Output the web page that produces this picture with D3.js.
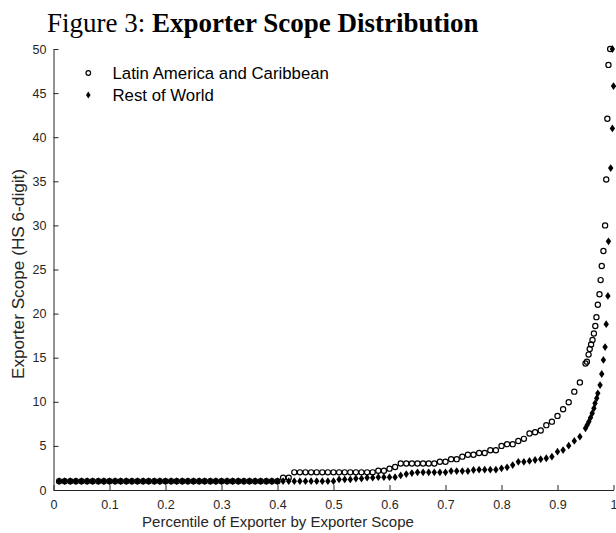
<!DOCTYPE html>
<html><head><meta charset="utf-8">
<script src="https://cdn.jsdelivr.net/npm/d3@7"></script>
<style>body{margin:0;background:#fff}svg{display:block}</style>
</head><body>
<svg id="c" width="616" height="533"></svg>
<script>
// percentile grid for the body of the distribution (0.01 ... 0.94)
const basePct = d3.range(1, 95).map(i => i / 100);

const lacBase = [
  1,1,1,1,1,1,1,1,1,1, 1,1,1,1,1,1,1,1,1,1, 1,1,1,1,1,1,1,1,1,1, 1,1,1,1,1,1,1,1,1,1,
  1.4,1.4,
  2,2,2,2,2,2,2,2,2,2,2,2,2,2,2,
  2.19,2.19,2.42,2.6,
  3,3,3,3,3,3,3,
  3.2,3.2, 3.5,3.5, 3.78, 4.0,4.0, 4.2,4.2, 4.5,4.5, 5.0, 5.2,5.2, 5.55, 5.8,
  6.4, 6.55, 6.75, 7.35, 7.75, 8.4, 9.15, 9.95, 11.15, 12.2
];
const lacTailPct = [0.95,0.9525,0.9555,0.9575,0.96,0.9625,0.965,0.9675,0.9695,0.972,0.975,0.977,0.979,0.982,0.985,0.987,0.989,0.991,0.994];
const lacTail    = [14.35,14.55,15.35,16.0,16.5,17.0,17.75,18.6,19.6,21.0,22.2,23.8,25.4,27.1,30.0,35.2,42.1,48.2,50];

const rowBase = [
  1,1,1,1,1,1,1,1,1,1, 1,1,1,1,1,1,1,1,1,1, 1,1,1,1,1,1,1,1,1,1, 1,1,1,1,1,1,1,1,1,1, 1,1,1,1,1,1,1,1,1,1,
  1.2,1.2,1.2, 1.3,1.3, 1.4,1.4, 1.45,1.45,1.45,1.45,
  1.65, 1.8, 1.92,
  2,2,2,2,2,2,
  2.15,2.15,2.15,2.15, 2.27, 2.3,2.3,2.3,2.3,
  2.46, 2.57, 2.83, 3.2,3.2, 3.3, 3.4, 3.5, 3.6, 3.78,
  4.34, 4.53, 5.02, 5.56, 6.05
];
const rowTailPct = [0.95,0.953,0.956,0.959,0.962,0.965,0.967,0.97,0.972,0.976,0.979,0.982,0.985,0.987,0.99,0.991,0.995,0.998,1.0,0.998];
const rowTail    = [7.0,7.37,7.75,8.2,8.7,9.26,9.83,10.4,10.96,11.9,13.15,14.75,16.2,18.8,22.0,28.2,36.5,41.0,45.8,50];

const xTicks = [0,0.1,0.2,0.3,0.4,0.5,0.6,0.7,0.8,0.9,1];
const yTicks = [0,5,10,15,20,25,30,35,40,45,50];
const seriesNames = ["Latin America and Caribbean", "Rest of World"];

const lac = basePct.map((p,i)=>({x:p,y:lacBase[i]})).concat(lacTailPct.map((p,i)=>({x:p,y:lacTail[i]})));
const row = basePct.map((p,i)=>({x:p,y:rowBase[i]})).concat(rowTailPct.map((p,i)=>({x:p,y:rowTail[i]})));

const svg = d3.select("#c");
const axCol = "#262626";
const sans = "'Liberation Sans', Arial, Helvetica, sans-serif";

const x = d3.scaleLinear().domain([0,1]).range([53.5, 613.5]);
const y = d3.scaleLinear().domain([0,50]).range([490, 49]);

// title
const t = svg.append("text").attr("x", 47).attr("y", 32)
  .attr("font-family", "'Liberation Serif', 'Times New Roman', serif").attr("font-size", 27).attr("fill", "#000");
t.append("tspan").text("Figure 3: ");
t.append("tspan").attr("font-weight", "bold").text("Exporter Scope Distribution");

// axes
const xAxis = d3.axisBottom(x).tickValues(xTicks).tickSizeInner(-5).tickSizeOuter(0).tickPadding(10)
  .tickFormat(d => d3.format("~g")(d));
const gx = svg.append("g").attr("transform", "translate(0,490)").call(xAxis);
const yAxis = d3.axisLeft(y).tickValues(yTicks).tickSizeInner(-5).tickSizeOuter(0).tickPadding(7);
const gy = svg.append("g").attr("transform", "translate(53.5,0)").call(yAxis);
[gx, gy].forEach(g => {
  g.select(".domain").attr("stroke", axCol).attr("stroke-width", 1);
  g.selectAll(".tick line").attr("stroke", axCol).attr("stroke-width", 1);
  g.selectAll(".tick text").attr("fill", axCol).attr("font-family", sans).attr("font-size", 12.5);
});

// axis labels
svg.append("text").attr("x", 278).attr("y", 527).attr("text-anchor", "middle")
  .attr("font-family", sans).attr("font-size", 15).attr("fill", axCol)
  .text("Percentile of Exporter by Exporter Scope");
svg.append("text").attr("transform", "translate(23.5,274) rotate(-90)").attr("text-anchor", "middle")
  .attr("font-family", sans).attr("font-size", 17.2).attr("fill", axCol)
  .text("Exporter Scope (HS 6-digit)");

const diamond = "M0,-3.9L2.7,0L0,3.9L-2.7,0Z";

// series
svg.append("g").selectAll("circle").data(lac).join("circle")
  .attr("cx", d => x(d.x)).attr("cy", d => y(d.y)).attr("r", 2.6)
  .attr("fill", "none").attr("stroke", "#000").attr("stroke-width", 1.2);
svg.append("g").selectAll("path").data(row).join("path")
  .attr("d", diamond).attr("transform", d => `translate(${x(d.x)},${y(d.y)})`).attr("fill", "#000");

// legend
const lg = svg.append("g");
lg.append("circle").attr("cx", 88.3).attr("cy", 73).attr("r", 2.3).attr("fill", "none").attr("stroke", "#000").attr("stroke-width", 1.2);
lg.append("path").attr("d", "M0,-3.4L2.3,0L0,3.4L-2.3,0Z").attr("transform", "translate(88.3,95)").attr("fill", "#000");
lg.selectAll("text").data(seriesNames).join("text")
  .attr("x", 112.5).attr("y", (d,i) => 79 + i*22)
  .attr("font-family", sans).attr("font-size", 16.8).attr("fill", "#000").text(d => d);
</script>
</body></html>
